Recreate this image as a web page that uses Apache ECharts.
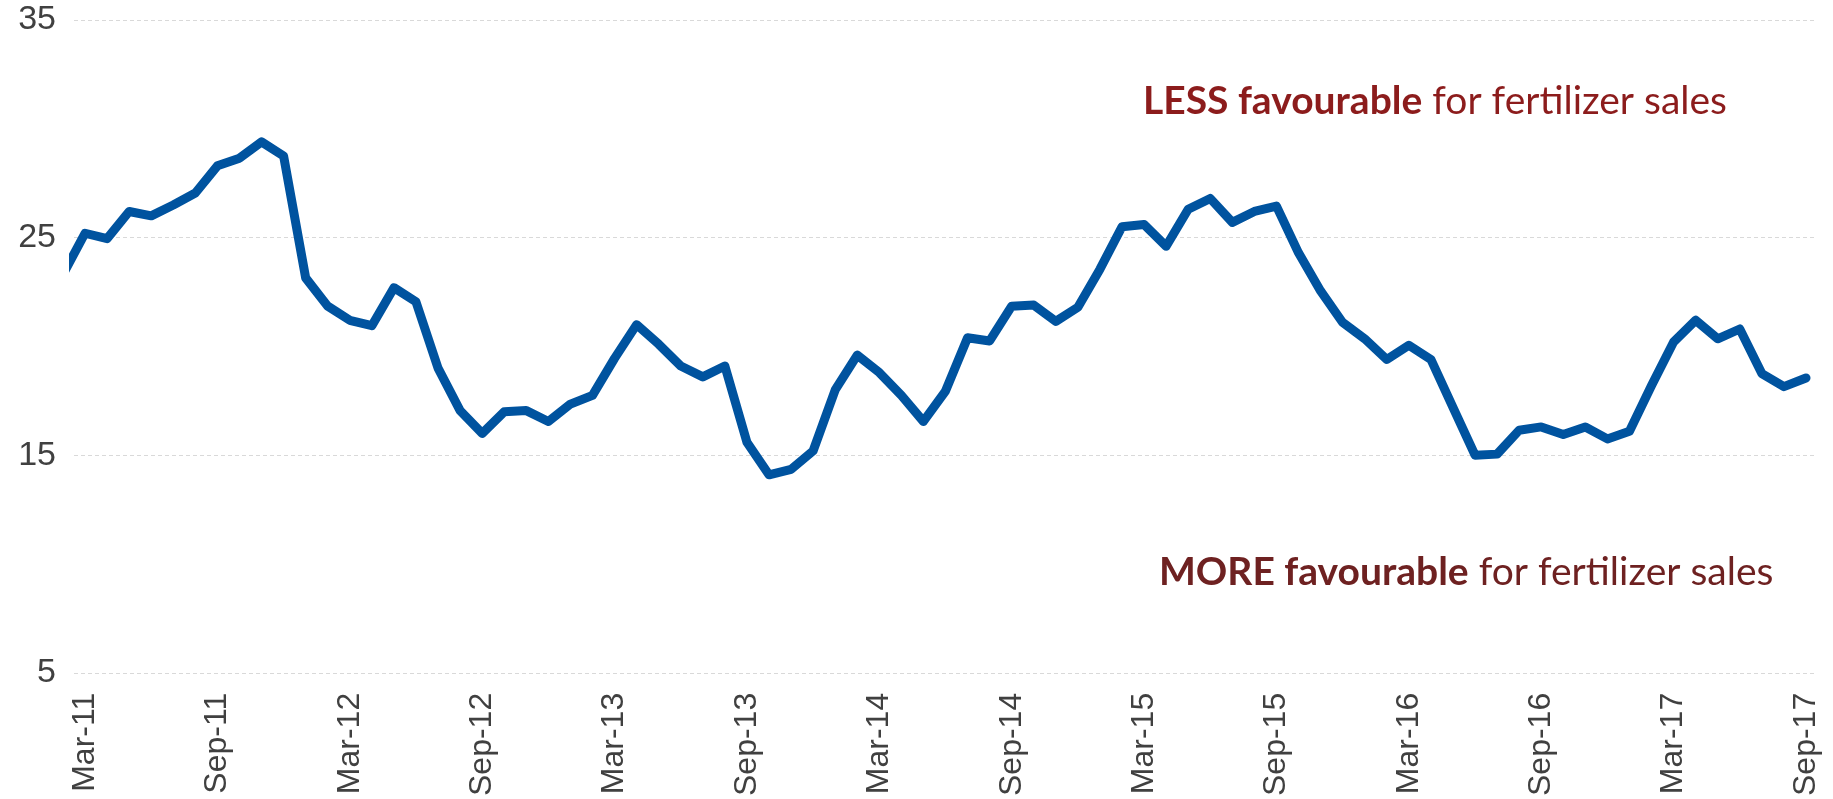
<!DOCTYPE html>
<html>
<head>
<meta charset="utf-8">
<script src="https://cdn.jsdelivr.net/npm/echarts@6/dist/echarts.min.js"></script>
<style>
    html,body{margin:0;padding:0;background:#fff;}
    #chart{width:1833px;height:799px;}
</style>
</head>
<body>
<div id="chart"></div>
<script>
    // monthly values, Feb-11 .. Sep-17 (Feb-11 sits just outside the plot and is clipped)
    var months = [
        'Feb-11','Mar-11','Apr-11','May-11','Jun-11','Jul-11','Aug-11','Sep-11','Oct-11','Nov-11','Dec-11',
        'Jan-12','Feb-12','Mar-12','Apr-12','May-12','Jun-12','Jul-12','Aug-12','Sep-12','Oct-12','Nov-12','Dec-12',
        'Jan-13','Feb-13','Mar-13','Apr-13','May-13','Jun-13','Jul-13','Aug-13','Sep-13','Oct-13','Nov-13','Dec-13',
        'Jan-14','Feb-14','Mar-14','Apr-14','May-14','Jun-14','Jul-14','Aug-14','Sep-14','Oct-14','Nov-14','Dec-14',
        'Jan-15','Feb-15','Mar-15','Apr-15','May-15','Jun-15','Jul-15','Aug-15','Sep-15','Oct-15','Nov-15','Dec-15',
        'Jan-16','Feb-16','Mar-16','Apr-16','May-16','Jun-16','Jul-16','Aug-16','Sep-16','Oct-16','Nov-16','Dec-16',
        'Jan-17','Feb-17','Mar-17','Apr-17','May-17','Jun-17','Jul-17','Aug-17','Sep-17'
    ];
    var values = [
        23.3, 25.2, 24.95, 26.2, 26.0, 26.5, 27.05, 28.3, 28.65, 29.4, 28.75,
        23.15, 21.85, 21.2, 20.95, 22.7, 22.05, 19.0, 17.05, 16.0, 17.0, 17.05, 16.55,
        17.35, 17.75, 19.45, 21.0, 20.1, 19.1, 18.6, 19.1, 15.6, 14.1, 14.35, 15.2,
        18.0, 19.6, 18.8, 17.75, 16.55, 17.95, 20.4, 20.25, 21.85, 21.9, 21.15, 21.8,
        23.55, 25.5, 25.6, 24.6, 26.3, 26.8, 25.7, 26.2, 26.45, 24.3, 22.55, 21.1,
        20.35, 19.4, 20.05, 19.4, 17.2, 15.0, 15.05, 16.15, 16.3, 15.95, 16.3, 15.75,
        16.1, 18.2, 20.2, 21.2, 20.35, 20.8, 18.75, 18.15, 18.55
    ];
    var tickLabels = ['Mar-11','Sep-11','Mar-12','Sep-12','Mar-13','Sep-13','Mar-14',
        'Sep-14','Mar-15','Sep-15','Mar-16','Sep-16','Mar-17','Sep-17'];
    var yTicks = [5, 15, 25, 35];

    var chart = echarts.init(document.getElementById('chart'));

    // x is the month position, Mar-11 = 0
    var lineData = [];
    for (var i = 0; i < values.length; i++) {
        lineData.push([i - 1, values[i]]);
    }
    var tickPos = [];
    for (var t = 0; t < tickLabels.length; t++) {
        tickPos.push(months.indexOf(tickLabels[t]) - 1);
    }

    var option = {
        animation: false,
        backgroundColor: '#fff',
        grid: {left: 74, right: 16, top: 20, bottom: 124},
        xAxis: {
            type: 'value',
            min: -0.5,
            max: months.length - 1.5,
            axisLine: {show: false},
            axisTick: {show: false},
            splitLine: {show: false},
            axisLabel: {
                customValues: tickPos,
                rotate: 90,
                margin: 20,
                fontSize: 32,
                fontFamily: 'Liberation Sans',
                color: '#404040',
                formatter: function (v) { return months[Math.round(v) + 1]; }
            }
        },
        yAxis: {
            type: 'value',
            min: yTicks[0],
            max: yTicks[yTicks.length - 1],
            interval: 10,
            axisLine: {show: false},
            axisTick: {show: false},
            axisLabel: {
                margin: 18,
                fontSize: 34,
                fontFamily: 'Liberation Sans',
                color: '#404040'
            },
            splitLine: {
                lineStyle: {color: '#d9d9d9', width: 1, type: [4, 3]}
            }
        },
        series: [{
            type: 'line',
            data: lineData,
            showSymbol: false,
            clip: true,
            lineStyle: {color: '#00539f', width: 9, join: 'round', cap: 'round'}
        }],
        graphic: [
            {
                type: 'text',
                left: 1143,
                top: 82,
                style: {
                    text: '{b|LESS favourable}{n| for fertilizer sales}',
                    rich: {
                        b: {fontFamily: 'Lato', fontSize: 39, fontWeight: 'bold', fill: '#8c1c1c'},
                        n: {fontFamily: 'Lato', fontSize: 39, fill: '#8c1c1c'}
                    }
                }
            },
            {
                type: 'text',
                left: 1159,
                top: 553,
                style: {
                    text: '{b|MORE favourable}{n| for fertilizer sales}',
                    rich: {
                        b: {fontFamily: 'Lato', fontSize: 39, fontWeight: 'bold', fill: '#6e2121'},
                        n: {fontFamily: 'Lato', fontSize: 39, fill: '#6e2121'}
                    }
                }
            }
        ]
    };
    chart.setOption(option);
    window.addEventListener('resize', chart.resize);
</script>
</body>
</html>
